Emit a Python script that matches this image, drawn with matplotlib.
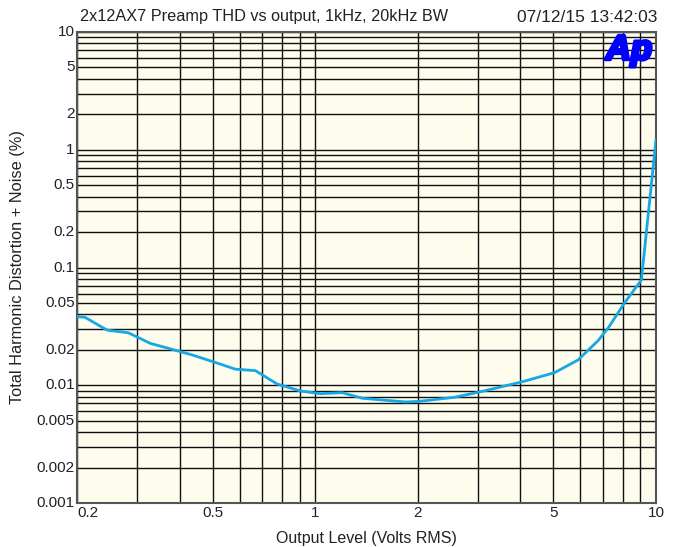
import matplotlib.pyplot as plt
import matplotlib.patheffects as pe
from matplotlib.ticker import FixedLocator, LogLocator, NullFormatter

plt.rcParams['font.family'] = ['Liberation Sans', 'DejaVu Sans']

# Output level (V RMS) and THD+N (%) read from the sweep
volts = [0.200, 0.211, 0.245, 0.283, 0.328, 0.402, 0.435, 0.503, 0.583, 0.668,
         0.773, 0.906, 1.037, 1.20, 1.375, 1.843, 2.02, 2.56, 3.06, 4.06,
         5.04, 5.90, 6.76, 7.23, 8.09, 9.06, 10.0]
thd = [0.0382, 0.0378, 0.0294, 0.0279, 0.0227, 0.0193, 0.0181, 0.0158, 0.0137, 0.0133,
       0.01025, 0.00893, 0.00848, 0.00865, 0.00775, 0.00721, 0.00730, 0.0079, 0.00881, 0.01072,
       0.0128, 0.01637, 0.0239, 0.0305, 0.0502, 0.0783, 1.21]

x_ticks = [0.2, 0.5, 1, 2, 5, 10]
x_labels = ['0.2', '0.5', '1', '2', '5', '10']
y_ticks = [0.001, 0.002, 0.005, 0.01, 0.02, 0.05, 0.1, 0.2, 0.5, 1, 2, 5, 10]
y_labels = ['0.001', '0.002', '0.005', '0.01', '0.02', '0.05', '0.1', '0.2', '0.5', '1', '2', '5', '10']

title_left = '2x12AX7 Preamp THD vs output, 1kHz, 20kHz BW'
title_right = '07/12/15 13:42:03'

fig = plt.figure(figsize=(6.76, 5.47), dpi=100)
ax = fig.add_axes([77 / 676, 1 - 503 / 547, 579 / 676, 471 / 547])
ax.set_facecolor('#FEFCEC')

ax.set_xscale('log')
ax.set_yscale('log')
ax.set_xlim(0.2, 10)
ax.set_ylim(0.001, 10)

# log grid, every 1..9 per decade
ax.xaxis.set_major_locator(LogLocator(base=10, subs=range(1, 10)))
ax.yaxis.set_major_locator(LogLocator(base=10, subs=range(1, 10), numticks=20))
ax.xaxis.set_minor_locator(FixedLocator([]))
ax.yaxis.set_minor_locator(FixedLocator([]))
ax.grid(True, which='major', color='#111111', linewidth=1.0)
ax.xaxis.set_major_formatter(NullFormatter())
ax.yaxis.set_major_formatter(NullFormatter())
ax.tick_params(length=0)

for v, lab in zip(x_ticks, x_labels):
    ha = 'left' if v == x_ticks[0] else 'center'
    ax.text(v, 0.001 / 1.06, lab, ha=ha, va='top', fontsize=11, color='#222222')
for v, lab in zip(y_ticks, y_labels):
    ax.text(0.2 / 1.015, v, lab, ha='right', va='center', fontsize=11, color='#222222')

for s in ax.spines.values():
    s.set_color('#555555')
    s.set_linewidth(1.5)

ax.plot(volts, thd, color='#14A8E6', linewidth=2, zorder=5)

ax.set_xlabel('Output Level (Volts RMS)', fontsize=11.5, color='#222222', labelpad=17)
ax.set_ylabel('Total Harmonic Distortion + Noise (%)', fontsize=11.8, color='#222222', labelpad=34)

fig.text(80 / 676, 1 - 17 / 547, title_left, ha='left', va='center', fontsize=11.7, color='#222222')
fig.text(657 / 676, 1 - 17 / 547, title_right, ha='right', va='center', fontsize=12.5, color='#222222')

# Ap logo
fig.text(629 / 676, 1 - 50 / 547, 'Ap', ha='center', va='center', fontsize=25,
         fontweight='heavy', fontstyle='italic', color='#0000FF', zorder=10,
         path_effects=[pe.withStroke(linewidth=2.5, foreground='#0000FF')])

fig.savefig('out.png', dpi=100)
